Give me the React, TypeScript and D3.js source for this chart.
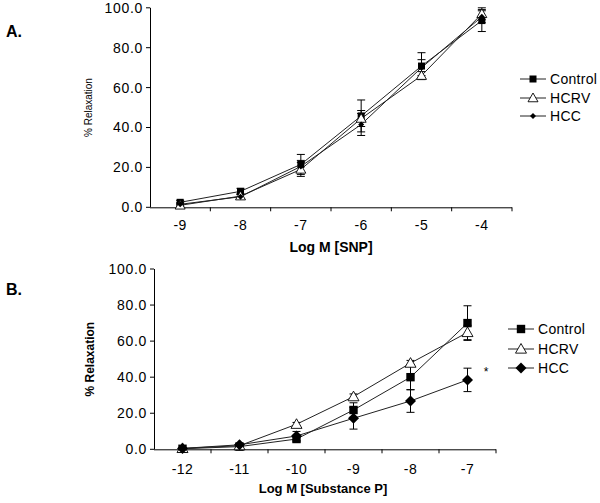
import React from "react";
import * as d3 from "d3";

const seriesNames = ["Control", "HCRV", "HCC"];

const catsA = ["-9", "-8", "-7", "-6", "-5", "-4"];
const controlA = [2.5, 8, 21.5, 45.8, 70.8, 93.6];
const controlErrA = [1, 1.5, 5, 8, 6.7, 5.5];
const hcrvA = [1, 5.6, 19, 44.5, 66, 97];
const hcrvErrA = [0.8, 1.2, 3.5, 4, 2, 3];
const hccA = [1.5, 5.3, 20.5, 41.5, 70, 95.5];
const hccErrA = [0.8, 1, 3, 5.5, 4, 3];

const catsB = ["-12", "-11", "-10", "-9", "-8", "-7"];
const controlB = [0.3, 1.5, 5.7, 21.8, 40, 70];
const controlErrB = [0.5, 0.8, 1.5, 4, 7, 9.6];
const hcrvB = [0.5, 2, 13.9, 29.2, 47.8, 64.8];
const hcrvErrB = [0.5, 0.5, 1, 1.5, 1.5, 4];
const hccB = [0.5, 2.5, 7.4, 17.2, 26.8, 38.5];
const hccErrB = [0.5, 0.8, 2.5, 6, 6.3, 6.5];

const yTicks = [0, 20, 40, 60, 80, 100];

type Series = { name: string; vals: number[]; errs: number[]; marker: string };

function Marker({ kind, x, y, big }: { kind: string; x: number; y: number; big: boolean }) {
  const s = big ? 4.2 : 3.5;
  if (kind === "square") {
    return <rect x={x - s} y={y - s} width={2 * s} height={2 * s} fill="#000" />;
  }
  if (kind === "triangle") {
    const t = big ? 5.5 : 5;
    return (
      <path
        d={`M${x},${y - t} L${x + t},${y + t * 0.75} L${x - t},${y + t * 0.75} Z`}
        fill="#fff"
        stroke="#000"
        strokeWidth={0.9}
      />
    );
  }
  const d = big ? 5.5 : 3;
  return <path d={`M${x},${y - d} L${x + d},${y} L${x},${y + d} L${x - d},${y} Z`} fill="#000" />;
}

function Panel(props: {
  cats: string[];
  series: Series[];
  x0: number;
  x1: number;
  yTop: number;
  yBot: number;
  label: string;
  labelY: number;
  yTitle: string;
  yTitleSize: number;
  yTitleWeight: string;
  yTitleX: number;
  xTitle: string;
  xTitleSize: number;
  xTitleY: number;
  xTitleX: number;
  tickLabelDy: number;
  legendX: number;
  legendY: number[];
  big: boolean;
  star?: { x: number; y: number };
}) {
  const p = props;
  const x = d3.scaleBand<string>().domain(p.cats).range([p.x0, p.x1]);
  const y = d3.scaleLinear().domain([0, 100]).range([p.yBot, p.yTop]);
  const bw = x.bandwidth();
  const cx = (c: string) => (x(c) as number) + bw / 2;
  const line = d3
    .line<number>()
    .x((_, i) => cx(p.cats[i]))
    .y((v) => y(v));
  const font = "Arial, 'Liberation Sans', sans-serif";
  const boundaries = p.cats.map((c) => (x(c) as number) + bw);
  return (
    <g fontFamily={font}>
      <text x={6} y={p.labelY} fontSize={16} fontWeight="bold">
        {p.label}
      </text>
      {/* y axis */}
      <line x1={p.x0 + 0.5} x2={p.x0 + 0.5} y1={y(100)} y2={y(0)} stroke="#000" strokeWidth={1} />
      {yTicks.map((t) => (
        <g key={t}>
          <line x1={p.x0 - 4} x2={p.x0} y1={y(t)} y2={y(t)} stroke="#000" />
          <text x={p.x0 - 7} y={y(t)} dy="0.35em" textAnchor="end" fontSize={14} letterSpacing={0.7}>
            {d3.format(".1f")(t)}
          </text>
        </g>
      ))}
      {/* x axis */}
      <line x1={p.x0} x2={p.x1} y1={y(0) + 0.5} y2={y(0) + 0.5} stroke="#000" />
      {boundaries.map((b, i) => (
        <line key={i} x1={b} x2={b} y1={y(0)} y2={y(0) + 4} stroke="#000" />
      ))}
      {p.cats.map((c) => (
        <text key={c} x={cx(c)} y={y(0) + p.tickLabelDy} textAnchor="middle" fontSize={14} letterSpacing={0.5}>
          {c}
        </text>
      ))}
      <text x={p.xTitleX} y={p.xTitleY} textAnchor="middle" fontSize={p.xTitleSize} fontWeight="bold">
        {p.xTitle}
      </text>
      <text
        transform={`translate(${p.yTitleX},${(y(0) + y(100)) / 2}) rotate(-90)`}
        textAnchor="middle"
        fontSize={p.yTitleSize}
        fontWeight={p.yTitleWeight}
      >
        {p.yTitle}
      </text>
      {/* series */}
      {p.series.map((s) => (
        <g key={s.name}>
          {s.vals.map((v, i) => {
            const xx = cx(p.cats[i]);
            const hi = y(v + s.errs[i]);
            const lo = y(v - s.errs[i]);
            return (
              <g key={i} stroke="#000" strokeWidth={1}>
                <line x1={xx} x2={xx} y1={hi} y2={lo} />
                <line x1={xx - 4} x2={xx + 4} y1={hi} y2={hi} />
                <line x1={xx - 4} x2={xx + 4} y1={lo} y2={lo} />
              </g>
            );
          })}
          <path d={line(s.vals) as string} fill="none" stroke="#222" strokeWidth={1} />
        </g>
      ))}
      {p.series.map((s) => (
        <g key={s.name + "m"}>
          {s.vals.map((v, i) => (
            <Marker key={i} kind={s.marker} x={cx(p.cats[i])} y={y(v)} big={p.big} />
          ))}
        </g>
      ))}
      {/* legend */}
      {p.series.map((s, i) => (
        <g key={s.name + "l"}>
          <line x1={p.legendX - 13} x2={p.legendX + 13} y1={p.legendY[i]} y2={p.legendY[i]} stroke="#222" />
          <Marker kind={s.marker} x={p.legendX} y={p.legendY[i]} big={p.big} />
          <text x={p.legendX + 17} y={p.legendY[i]} dy="0.35em" fontSize={14} letterSpacing={0.3}>
            {s.name}
          </text>
        </g>
      ))}
      {p.star && (
        <text x={p.star.x} y={p.star.y} textAnchor="middle" fontSize={12}>
          *
        </text>
      )}
    </g>
  );
}

export default function App() {
  const seriesA: Series[] = [
    { name: seriesNames[0], vals: controlA, errs: controlErrA, marker: "square" },
    { name: seriesNames[1], vals: hcrvA, errs: hcrvErrA, marker: "triangle" },
    { name: seriesNames[2], vals: hccA, errs: hccErrA, marker: "diamond" },
  ];
  const seriesB: Series[] = [
    { name: seriesNames[0], vals: controlB, errs: controlErrB, marker: "square" },
    { name: seriesNames[1], vals: hcrvB, errs: hcrvErrB, marker: "triangle" },
    { name: seriesNames[2], vals: hccB, errs: hccErrB, marker: "diamond" },
  ];
  return (
    <svg
      width={600}
      height={503}
      style={{ position: "absolute", left: 0, top: 0, background: "#fff" }}
    >
      <rect width={600} height={503} fill="#fff" />
      <Panel
        cats={catsA}
        series={seriesA}
        x0={150}
        x1={512}
        yTop={7.8}
        yBot={207.3}
        label="A."
        labelY={37}
        yTitle="% Relaxation"
        yTitleSize={10}
        yTitleWeight="normal"
        yTitleX={92}
        xTitle="Log M [SNP]"
        xTitleSize={14}
        xTitleY={252}
        xTitleX={331}
        tickLabelDy={23}
        legendX={533}
        legendY={[79, 98, 116]}
        big={false}
      />
      <Panel
        cats={catsB}
        series={seriesB}
        x0={154}
        x1={496}
        yTop={269}
        yBot={449.3}
        label="B."
        labelY={295}
        yTitle="% Relaxation"
        yTitleSize={12}
        yTitleWeight="bold"
        yTitleX={94}
        xTitle="Log M [Substance P]"
        xTitleSize={13}
        xTitleY={493}
        xTitleX={323}
        tickLabelDy={25}
        legendX={521}
        legendY={[329, 349, 368]}
        big={true}
        star={{ x: 486, y: 376 }}
      />
    </svg>
  );
}
